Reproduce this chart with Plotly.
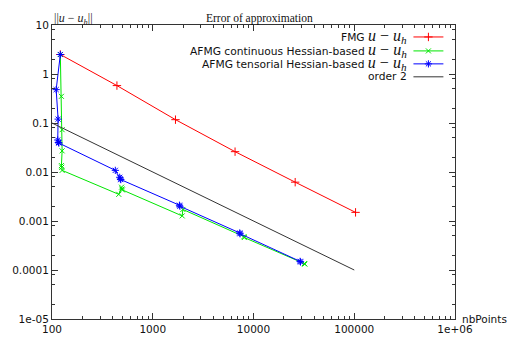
import plotly.graph_objects as go

# ---------------- data ----------------
fmg_n = [121, 441, 1681, 6561, 25921, 103041]
fmg_err = [2.5, 0.58, 0.117, 0.026, 0.0062, 0.0015]

cont_n = [121, 124, 126, 126, 124, 125, 126, 460, 490, 495, 500, 1960, 1990, 8050, 8100, 32000, 32300]
cont_err = [2.5, 0.35, 0.073, 0.027, 0.0135, 0.0125, 0.0108, 0.0035, 0.0049, 0.0045, 0.0043,
            0.00127, 0.00172, 0.00048, 0.00046, 0.000135, 0.000132]

tens_n = [121, 110, 115, 114, 116, 117, 425, 470, 478, 482, 1840, 1860, 7300, 7350, 29000, 29300]
tens_err = [2.5, 0.48, 0.12, 0.045, 0.040, 0.039, 0.0108, 0.0078, 0.0072, 0.0070,
            0.0021, 0.0020, 0.00057, 0.00055, 0.000150, 0.000146]

order2_n = [100, 100000]
order2_err = [0.1, 0.0001]

x_tickvals = [100, 1000, 10000, 100000, 1000000]
x_ticktext = ["100", "1000", "10000", "100000", "1e+06"]
y_tickvals = [10, 1, 0.1, 0.01, 0.001, 0.0001, 0.00001]
y_ticktext = ["10", "1", "0.1", "0.01", "0.001", "0.0001", "1e-05"]

x_minor = [m * 10 ** k for k in range(2, 6) for m in range(2, 10)]
y_minor = [m * 10 ** k for k in range(-5, 1) for m in (2, 5, 8)]

legend_names = ["FMG", "AFMG continuous Hessian-based", "AFMG tensorial Hessian-based", "order 2"]

RED, GREEN, BLUE, BLACK = "#ff0000", "#00e600", "#0000ff", "#333333"
SANS = "DejaVu Sans"
SERIF = "Liberation Serif"
UU = ("<span style='font-family:Liberation Serif;font-size:16px'>"
      "<i>u</i> − <i>u</i><sub><i>h</i></sub></span>")

fig = go.Figure()

def add_series(xs, ys, color, symbol, size):
    fig.add_trace(go.Scatter(
        x=xs, y=ys, mode="lines+markers" if symbol else "lines",
        line=dict(color=color, width=1.0),
        marker=dict(symbol=symbol or "circle", size=size, color=color,
                    line=dict(width=1.0, color=color)),
        showlegend=False, cliponaxis=False))

add_series(fmg_n, fmg_err, RED, "cross-thin-open", 6)
add_series(cont_n, cont_err, GREEN, "x-thin-open", 5)
add_series(tens_n, tens_err, BLUE, "asterisk-open", 6)
add_series(order2_n, order2_err, BLACK, None, 0)

# ---------------- manual gnuplot-style legend ----------------
L, R, T, B = 38, 52, 25, 27
W, H = 507, 347
pw, ph = W - L - R, H - T - B
def px(x):
    return (x - L) / pw
def py(y):
    return 1 - (y - T) / ph

rows = [37, 51, 64, 77]
styles = [(RED, "cross-thin-open", 6), (GREEN, "x-thin-open", 5), (BLUE, "asterisk-open", 6), (BLACK, None, 0)]
for i, (name, (c, sym, sz)) in enumerate(zip(legend_names, styles)):
    label = name + (" " + UU if i < 3 else "")
    fig.add_annotation(x=px(407), y=py(rows[i]), xref="paper", yref="paper",
                       text=label, showarrow=False, xanchor="right", yanchor="middle",
                       font=dict(family=SANS, size=10.7, color="#111"))
    fig.add_shape(type="line", xref="paper", yref="paper",
                  x0=px(412), x1=px(443), y0=py(rows[i]), y1=py(rows[i]),
                  line=dict(color=c, width=1.0))
    if sym:
        fig.add_trace(go.Scatter(x=[px(427.5)], y=[py(rows[i])], xaxis="x2", yaxis="y2",
                                 mode="markers", showlegend=False, hoverinfo="skip",
                                 marker=dict(symbol=sym, size=sz, color=c, line=dict(width=1.0, color=c))))

# ---------------- titles ----------------
fig.add_annotation(x=px(253), y=py(10), xref="paper", yref="paper", text="Error of approximation",
                   showarrow=False, font=dict(family=SERIF, size=11.5, color="#111"))
fig.add_annotation(x=px(38), y=py(9), xref="paper", yref="paper",
                   text="||<i>u</i> − <i>u</i><sub><i>h</i></sub>||",
                   showarrow=False, font=dict(family=SERIF, size=12, color="#222"))
fig.add_annotation(x=px(460), y=py(320), xref="paper", yref="paper", text="nbPoints",
                   showarrow=False, xanchor="left", yanchor="middle",
                   font=dict(family=SANS, size=10.5, color="#111"))

axis_common = dict(type="log", showgrid=False, zeroline=False, showline=True,
                   linecolor="#333", linewidth=1, mirror="ticks",
                   ticks="inside", ticklen=6, tickwidth=1, tickcolor="#333",
                   tickfont=dict(family=SANS, size=10.5, color="#111"), tickmode="array")

fig.update_layout(
    width=W, height=H,
    margin=dict(l=L, r=R, t=T, b=B, pad=0),
    paper_bgcolor="white", plot_bgcolor="white",
    xaxis=dict(range=[2, 6], tickvals=x_tickvals, ticktext=x_ticktext,
               minor=dict(tickmode="array", tickvals=x_minor, ticks="inside", ticklen=3,
                          tickcolor="#333", showgrid=False),
               **axis_common),
    yaxis=dict(range=[-5, 1], tickvals=y_tickvals, ticktext=y_ticktext,
               minor=dict(tickmode="array", tickvals=y_minor, ticks="inside", ticklen=3,
                          tickcolor="#333", showgrid=False),
               **axis_common),
    xaxis2=dict(range=[0, 1], overlaying="x", visible=False, fixedrange=True),
    yaxis2=dict(range=[0, 1], overlaying="y", visible=False, fixedrange=True),
)

fig.write_html("out.html")
